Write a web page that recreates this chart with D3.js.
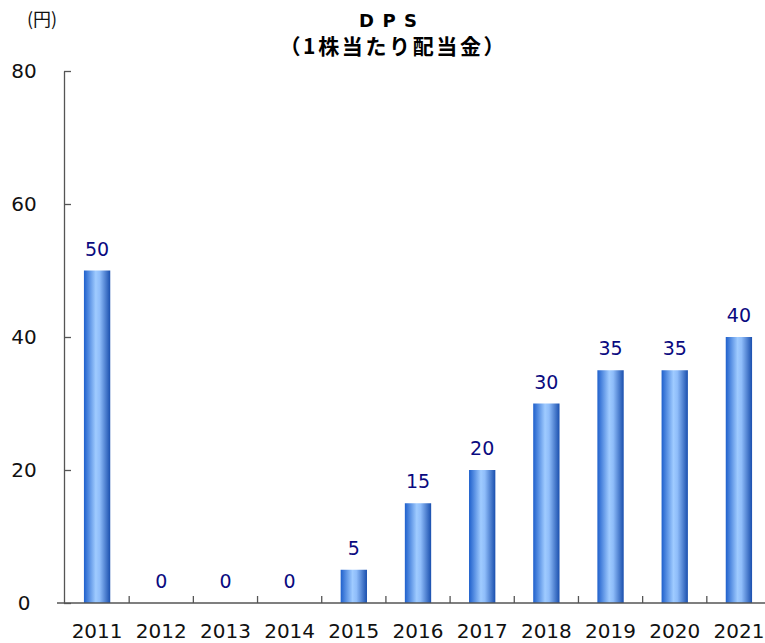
<!DOCTYPE html>
<html>
<head>
<meta charset="utf-8">
<script src="https://cdn.jsdelivr.net/npm/d3@7"></script>
<style>
  body { margin: 0; background: #fff; }
  text { font-family: "DejaVu Sans", sans-serif; }
</style>
</head>
<body>
<svg id="chart" width="765" height="643"></svg>
<script>
var years = ["2011", "2012", "2013", "2014", "2015", "2016", "2017", "2018", "2019", "2020", "2021"];
var dps = [50, 0, 0, 0, 5, 15, 20, 30, 35, 35, 40];
var yTicks = [0, 20, 40, 60, 80];

var svg = d3.select("#chart");
var mLeft = 64, mRight = 765, mTop = 71, mBottom = 603;

// band range runs slightly past the right edge, as in the original
var x = d3.scaleBand()
    .domain(years)
    .range([mLeft + 1, 771])
    .paddingInner(0.59)
    .paddingOuter(0.295);

var y = d3.scaleLinear()
    .domain([0, 80])
    .range([mBottom, mTop]);

// gradient for the bars
var grad = svg.append("defs").append("linearGradient")
    .attr("id", "barGrad")
    .attr("x1", "0%").attr("x2", "100%")
    .attr("y1", "0%").attr("y2", "0%");
grad.append("stop").attr("offset", "0%").attr("stop-color", "#1f60cc");
grad.append("stop").attr("offset", "45%").attr("stop-color", "#9fcbff");
grad.append("stop").attr("offset", "60%").attr("stop-color", "#8fbdfa");
grad.append("stop").attr("offset", "100%").attr("stop-color", "#1a4fae");

// bars
svg.selectAll("rect.bar")
    .data(dps)
    .enter().append("rect")
    .attr("class", "bar")
    .attr("x", function(d, i) { return x(years[i]); })
    .attr("y", function(d) { return y(d); })
    .attr("width", x.bandwidth())
    .attr("height", function(d) { return mBottom - y(d); })
    .attr("fill", "url(#barGrad)");

// y axis
var yAxis = svg.append("g")
    .attr("transform", "translate(" + mLeft + ",0)")
    .call(d3.axisRight(y).tickValues(yTicks).tickSize(7).tickSizeOuter(0).tickFormat(""));
yAxis.select(".domain").attr("stroke", "#555").attr("stroke-width", 1.3);
yAxis.selectAll(".tick line").attr("stroke", "#555").attr("stroke-width", 1.3);

svg.selectAll("text.ylab")
    .data(yTicks)
    .enter().append("text")
    .attr("class", "ylab")
    .attr("x", 24)
    .attr("y", function(d) { return y(d); })
    .attr("dy", "0.36em")
    .attr("text-anchor", "middle")
    .attr("font-size", 20)
    .attr("fill", "#111")
    .text(function(d) { return d; });

// x axis
svg.append("line")
    .attr("x1", mLeft - 7).attr("x2", mRight)
    .attr("y1", mBottom).attr("y2", mBottom)
    .attr("stroke", "#555").attr("stroke-width", 1.3);

svg.selectAll("line.xtick")
    .data(years.slice(1))
    .enter().append("line")
    .attr("class", "xtick")
    .attr("x1", function(d) { return x(d) - x.step() * x.paddingInner() / 2; })
    .attr("x2", function(d) { return x(d) - x.step() * x.paddingInner() / 2; })
    .attr("y1", mBottom).attr("y2", mBottom - 7)
    .attr("stroke", "#555").attr("stroke-width", 1.3);

svg.selectAll("text.xlab")
    .data(years)
    .enter().append("text")
    .attr("class", "xlab")
    .attr("x", function(d) { return x(d) + x.bandwidth() / 2; })
    .attr("y", 638)
    .attr("text-anchor", "middle")
    .attr("font-size", 20)
    .attr("fill", "#111")
    .text(function(d) { return d; });

// value labels
svg.selectAll("text.val")
    .data(dps)
    .enter().append("text")
    .attr("class", "val")
    .attr("x", function(d, i) { return x(years[i]) + x.bandwidth() / 2; })
    .attr("y", function(d) { return y(d) - 15; })
    .attr("text-anchor", "middle")
    .attr("font-size", 19)
    .attr("fill", "#0a0a80")
    .text(function(d) { return d; });

// titles
svg.append("text")
    .attr("x", 42).attr("y", 26)
    .attr("text-anchor", "middle")
    .attr("font-size", 18)
    .attr("fill", "#111")
    .style("font-family", "'Noto Sans CJK JP', sans-serif")
    .text("(円)");

svg.append("text")
    .attr("x", 388).attr("y", 27)
    .attr("text-anchor", "middle")
    .attr("font-size", 18)
    .attr("font-weight", "bold")
    .attr("textLength", 58)
    .attr("lengthAdjust", "spacing")
    .attr("fill", "#000")
    .text("DPS");

svg.append("text")
    .attr("x", 392).attr("y", 54)
    .attr("text-anchor", "middle")
    .attr("font-size", 21)
    .attr("font-weight", "bold")
    .attr("textLength", 225)
    .attr("lengthAdjust", "spacing")
    .attr("fill", "#000")
    .style("font-family", "'Noto Sans CJK JP', sans-serif")
    .text("（1株当たり配当金）");
</script>
</body>
</html>
